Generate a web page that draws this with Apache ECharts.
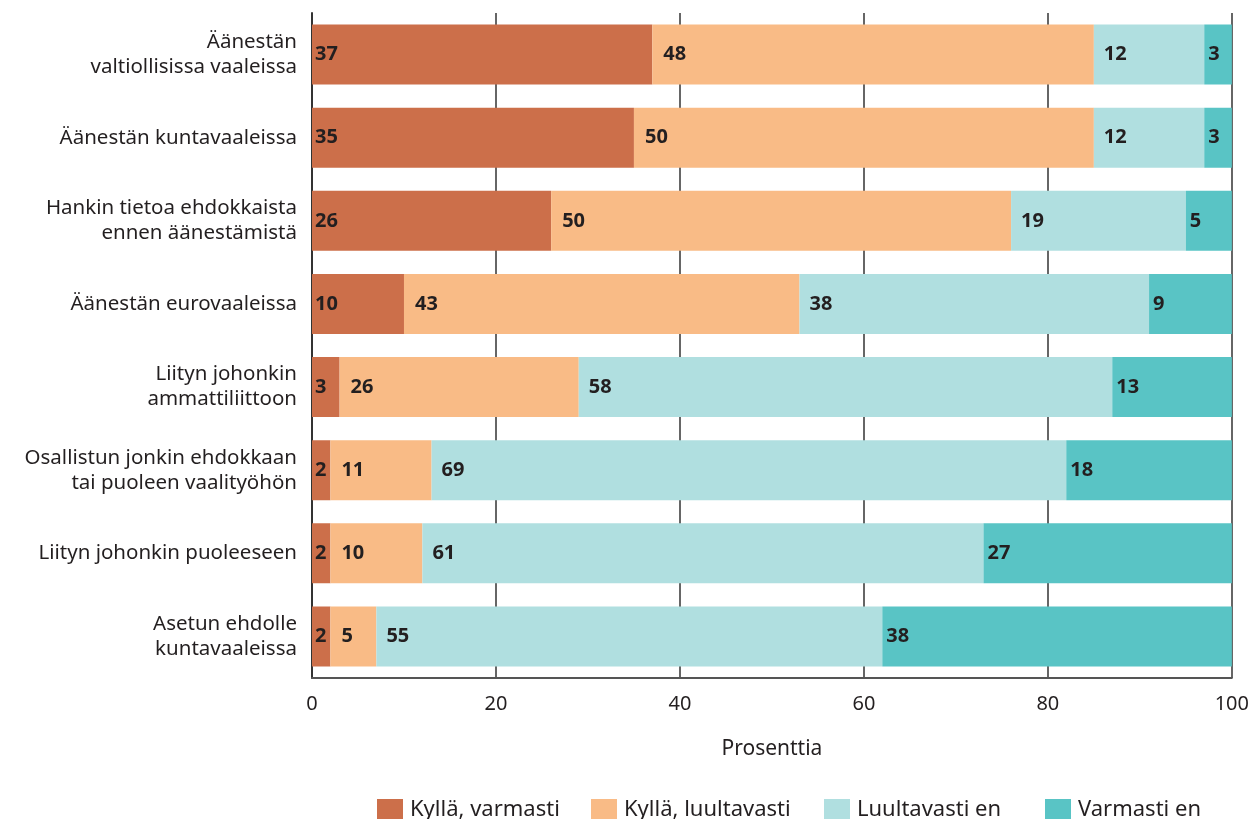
<!DOCTYPE html>
<html>
<head>
<meta charset="utf-8">
<script src="https://cdn.jsdelivr.net/npm/echarts@6/dist/echarts.min.js"></script>
<style>
html,body{margin:0;padding:0;background:#fff;}
#chart{width:1252px;height:819px;}
</style>
</head>
<body>
<div id="chart"></div>
<script>
const categories = [
  "Äänestän\nvaltiollisissa vaaleissa",
  "Äänestän kuntavaaleissa",
  "Hankin tietoa ehdokkaista\nennen äänestämistä",
  "Äänestän eurovaaleissa",
  "Liityn johonkin\nammattiliittoon",
  "Osallistun jonkin ehdokkaan\ntai puoleen vaalityöhön",
  "Liityn johonkin puoleeseen",
  "Asetun ehdolle\nkuntavaaleissa"
];
const seriesNames = ["Kyllä, varmasti", "Kyllä, luultavasti", "Luultavasti en", "Varmasti en"];
const kyllaVarmasti   = [37, 35, 26, 10, 3, 2, 2, 2];
const kyllaLuultavasti = [48, 50, 50, 43, 26, 11, 10, 5];
const luultavastiEn   = [12, 12, 19, 38, 58, 69, 61, 55];
const varmastiEn      = [3, 3, 5, 9, 13, 18, 27, 38];
const xTicks = [0, 20, 40, 60, 80, 100];
const axisTitle = "Prosenttia";

const colors = ["#cc6f4a", "#f9bb86", "#b0dfe0", "#59c4c5"];
const values = [kyllaVarmasti, kyllaLuultavasti, luultavastiEn, varmastiEn];
const font = "'Noto Sans', 'Open Sans', sans-serif";
const legendLefts = [372, 586, 819, 1040];
const labelDistances = [3, 11, 10, 4];

const chart = echarts.init(document.getElementById('chart'));
chart.setOption({
  animation: false,
  textStyle: { fontFamily: font },
  grid: { left: 312, right: 20, top: 13, bottom: 141, containLabel: false },
  xAxis: {
    type: 'value', min: xTicks[0], max: xTicks[xTicks.length - 1], interval: 20,
    name: axisTitle, nameLocation: 'middle', nameGap: 61,
    nameTextStyle: { fontSize: 21, color: '#231f20', fontFamily: font },
    axisLine: { show: true, lineStyle: { color: '#555', width: 2 } },
    axisTick: { show: false },
    axisLabel: { fontSize: 20, color: '#231f20', margin: 16, fontFamily: font },
    splitLine: { show: true, lineStyle: { color: '#333', width: 1.5 } }
  },
  yAxis: {
    type: 'category', data: categories, inverse: true,
    axisLine: { show: true, lineStyle: { color: '#333', width: 2 } },
    axisTick: { show: false },
    axisLabel: { fontSize: 20.5, color: '#231f20', margin: 15, lineHeight: 25, align: 'right', fontFamily: font }
  },
  legend: seriesNames.map((n, i) => ({
    bottom: -7, left: legendLefts[i], itemWidth: 26, itemHeight: 22,
    icon: 'rect',
    textStyle: { fontSize: 22, color: '#231f20', fontFamily: font, padding: [0, 0, 0, 2] },
    data: [n]
  })),
  series: seriesNames.map((n, i) => ({
    name: n, type: 'bar', stack: 'total', barWidth: 60,
    data: values[i],
    itemStyle: { color: colors[i] },
    label: {
      show: true, position: 'insideLeft', distance: labelDistances[i],
      fontSize: 20, fontWeight: 'bold', color: '#231f20', fontFamily: font
    }
  }))
});
</script>
</body>
</html>
